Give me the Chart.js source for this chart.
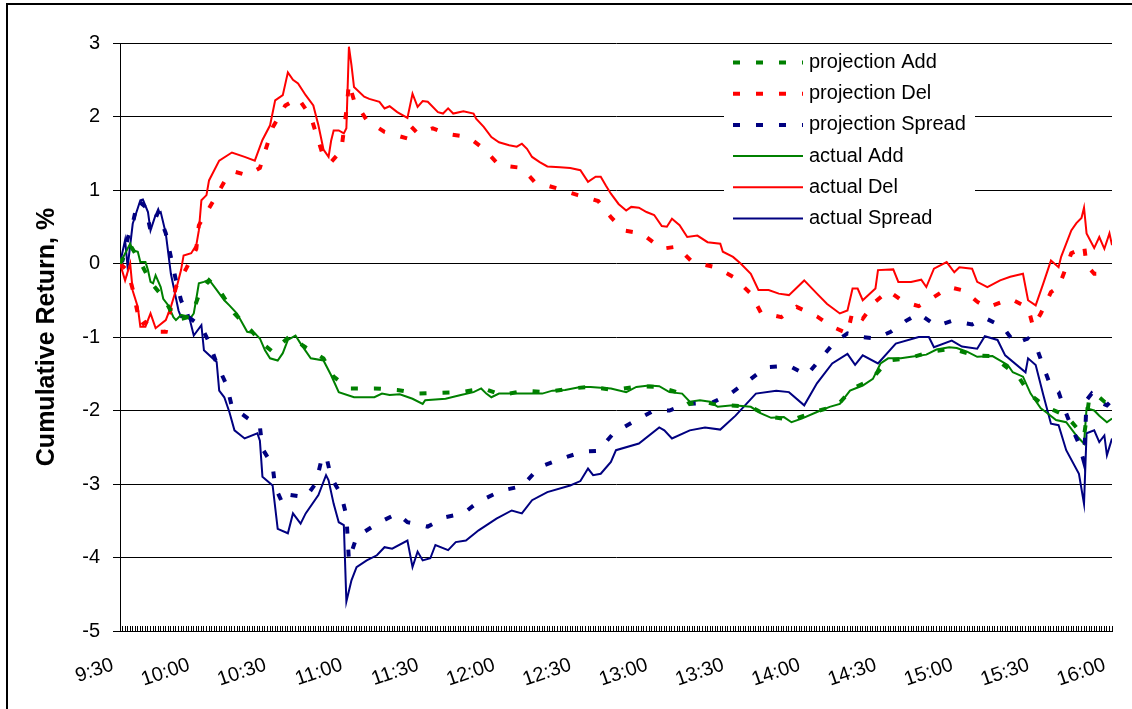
<!DOCTYPE html>
<html>
<head>
<meta charset="utf-8">
<script src="https://cdn.jsdelivr.net/npm/chart.js@4.4.1/dist/chart.umd.min.js"></script>
<style>
  html, body { margin: 0; padding: 0; background: #fff; }
  canvas { display: block; }
</style>
</head>
<body>
<canvas id="chart" width="1132" height="709"></canvas>
<script>
// x axis: minutes after 9:30, one tick per minute, a label every 30 min
const timeLabels = ['9:30', '10:00', '10:30', '11:00', '11:30', '12:00', '12:30',
  '13:00', '13:30', '14:00', '14:30', '15:00', '15:30', '16:00'];

// [minute, cumulative return %]
const projAdd = [[0,0],[4,0.25],[8,0.02],[12,-0.25],[17,-0.46],[22,-0.77],[28,-0.72],[31,-0.43],[35,-0.23],[39,-0.36],
  [45,-0.68],[52,-0.93],[56,-1.09],[60,-1.2],[67,-0.98],[72,-1.12],[80,-1.29],[84,-1.54],[90,-1.70],[100,-1.70],
  [109,-1.72],[117,-1.77],[126,-1.76],[134,-1.75],[143,-1.70],[150,-1.79],[159,-1.73],[168,-1.75],[177,-1.70],[185,-1.68],
  [194,-1.72],[204,-1.67],[212,-1.68],[221,-1.77],[224,-1.91],[229,-1.87],[233,-1.91],[239,-1.93],[248,-1.95],[255,-2.08],
  [264,-2.13],[273,-2.02],[282,-1.93],[288,-1.70],[295,-1.59],[302,-1.32],[310,-1.29],[319,-1.2],[327,-1.16],[336,-1.25],
  [343,-1.26],[350,-1.45],[353,-1.53],[358,-1.79],[364,-1.95],[372,-2.07],[377,-2.27],[379,-2.35],[381,-1.85],[384,-1.79],
  [387,-1.88],[390,-1.93]];

const projDel = [[0,0],[3,-0.1],[5,-0.35],[8,-0.85],[10,-0.8],[15,-0.93],[18,-0.93],[20,-0.6],[22,-0.32],[26,-0.07],
  [30,0.2],[31,0.52],[35,0.75],[38,0.93],[41,1.11],[45,1.25],[50,1.2],[55,1.3],[60,1.85],[65,2.15],
  [70,2.25],[75,2.0],[80,1.45],[83,1.38],[87,1.54],[88,1.81],[89,2.08],[90,2.45],[92,2.22],[97,1.95],
  [104,1.79],[113,1.70],[114,1.88],[117,1.77],[123,1.84],[129,1.76],[137,1.72],[143,1.56],[149,1.34],[158,1.30],
  [163,1.11],[172,1.02],[180,0.93],[188,0.85],[193,0.63],[198,0.45],[205,0.41],[213,0.2],[219,0.23],[225,0.02],
  [234,-0.05],[241,-0.18],[248,-0.41],[252,-0.67],[260,-0.73],[266,-0.59],[274,-0.72],[280,-0.86],[286,-0.95],[288,-0.65],
  [292,-0.75],[297,-0.52],[302,-0.37],[308,-0.52],[314,-0.58],[319,-0.48],[326,-0.32],[332,-0.37],[337,-0.52],[341,-0.6],
  [350,-0.48],[357,-0.6],[359,-0.86],[362,-0.68],[366,-0.39],[369,-0.32],[371,-0.14],[374,0.14],[378,0.2],[379,0.25],
  [380,-0.02],[383,-0.14],[387,-0.14],[390,-0.12]];

const projSpread = [[0,0],[1,0.04],[3,0.34],[5,0.54],[7,0.86],[10,0.77],[12,0.45],[15,0.7],[18,0.41],[20,0.09],
  [22,-0.23],[24,-0.5],[27,-0.73],[32,-0.86],[35,-1.07],[38,-1.36],[42,-1.66],[44,-1.95],[50,-2.1],[55,-2.22],
  [56,-2.52],[60,-2.75],[61,-3.04],[64,-3.27],[67,-3.15],[73,-3.18],[77,-2.99],[79,-2.70],[81,-2.61],[83,-2.91],
  [87,-3.15],[89,-3.43],[90,-4.04],[93,-3.72],[101,-3.54],[109,-3.40],[113,-3.52],[121,-3.58],[128,-3.45],[135,-3.40],
  [141,-3.24],[150,-3.09],[158,-3.03],[165,-2.77],[174,-2.65],[182,-2.56],[188,-2.55],[194,-2.31],[202,-2.15],[210,-2.0],
  [216,-2.0],[223,-1.91],[233,-1.89],[240,-1.77],[248,-1.57],[254,-1.41],[263,-1.39],[270,-1.52],[276,-1.27],[281,-1.07],
  [286,-0.95],[291,-1.0],[297,-1.02],[303,-0.93],[309,-0.78],[314,-0.68],[321,-0.85],[327,-0.78],[335,-0.83],[340,-0.74],
  [347,-0.86],[352,-1.09],[357,-1.02],[360,-1.11],[363,-1.40],[366,-1.68],[369,-1.75],[371,-1.95],[374,-2.22],[377,-2.45],
  [379,-2.70],[380,-1.86],[382,-1.77],[385,-1.88],[388,-1.93],[390,-1.86]];

const actualAdd = [[0,0],[4,0.27],[5,0.18],[7,0.16],[8,0.02],[10,0.02],[11,-0.09],[12,-0.25],[13,-0.27],[14,-0.16],
  [16,-0.32],[17,-0.48],[19,-0.57],[21,-0.73],[22,-0.77],[24,-0.70],[28,-0.73],[29,-0.68],[30,-0.48],[31,-0.27],
  [33,-0.25],[35,-0.22],[38,-0.36],[41,-0.5],[43,-0.57],[46,-0.68],[50,-0.93],[53,-0.95],[55,-1.02],[57,-1.18],
  [59,-1.29],[62,-1.32],[64,-1.22],[66,-1.04],[69,-0.98],[71,-1.09],[75,-1.29],[80,-1.32],[83,-1.52],[86,-1.75],
  [92,-1.82],[100,-1.82],[103,-1.77],[106,-1.79],[110,-1.78],[115,-1.84],[119,-1.91],[120,-1.86],[128,-1.84],[134,-1.79],
  [139,-1.75],[142,-1.70],[144,-1.77],[146,-1.82],[149,-1.77],[166,-1.77],[170,-1.73],[175,-1.72],[181,-1.68],[185,-1.68],
  [193,-1.70],[199,-1.75],[203,-1.68],[208,-1.66],[212,-1.67],[216,-1.75],[221,-1.77],[224,-1.88],[228,-1.86],[232,-1.88],
  [235,-1.95],[241,-1.93],[248,-1.95],[252,-2.04],[256,-2.10],[261,-2.09],[264,-2.16],[268,-2.11],[274,-2.02],[279,-1.95],
  [283,-1.91],[287,-1.73],[292,-1.66],[296,-1.57],[299,-1.36],[302,-1.29],[307,-1.29],[311,-1.27],[317,-1.24],[321,-1.17],
  [326,-1.14],[329,-1.15],[333,-1.2],[337,-1.27],[343,-1.26],[349,-1.38],[351,-1.48],[355,-1.54],[358,-1.77],[362,-1.97],
  [364,-2.02],[368,-2.13],[372,-2.16],[376,-2.34],[379,-2.45],[380,-1.97],[383,-2.0],[385,-2.07],[388,-2.16],[390,-2.11]];

const actualDel = [[0,0],[2,-0.23],[4,0.0],[5,-0.37],[7,-0.59],[8,-0.86],[10,-0.86],[12,-0.68],[14,-0.88],[18,-0.77],
  [20,-0.59],[22,-0.36],[24,-0.09],[25,0.11],[28,0.14],[30,0.25],[31,0.45],[32,0.86],[34,0.93],[35,1.13],
  [39,1.4],[44,1.51],[49,1.45],[53,1.4],[56,1.68],[59,1.88],[61,2.22],[64,2.29],[66,2.6],[68,2.5],
  [70,2.45],[73,2.29],[76,2.15],[78,1.88],[80,1.55],[82,1.45],[83,1.67],[84,1.81],[86,1.81],[88,1.77],
  [89,1.84],[90,2.95],[91,2.7],[92,2.4],[96,2.27],[98,2.24],[102,2.20],[104,2.11],[106,2.14],[109,2.06],
  [113,1.98],[115,2.31],[117,2.13],[119,2.21],[121,2.20],[125,2.06],[127,2.04],[129,2.11],[131,2.04],[135,2.07],
  [139,2.04],[140,1.97],[143,1.86],[146,1.72],[149,1.65],[153,1.61],[156,1.59],[158,1.63],[160,1.56],[162,1.45],
  [165,1.38],[168,1.32],[173,1.31],[177,1.30],[181,1.27],[184,1.11],[187,1.18],[189,1.18],[191,1.06],[193,0.95],
  [196,0.81],[199,0.72],[201,0.77],[204,0.76],[207,0.70],[210,0.66],[213,0.51],[215,0.50],[217,0.61],[220,0.52],
  [223,0.36],[227,0.38],[231,0.29],[236,0.27],[237,0.16],[241,0.09],[244,0.0],[248,-0.14],[251,-0.36],[255,-0.36],
  [259,-0.41],[263,-0.43],[269,-0.23],[274,-0.41],[278,-0.55],[283,-0.68],[286,-0.64],[288,-0.34],[290,-0.34],[292,-0.50],
  [297,-0.34],[298,-0.09],[304,-0.08],[306,-0.25],[311,-0.25],[315,-0.22],[317,-0.32],[320,-0.07],[325,0.02],[328,-0.12],
  [330,-0.05],[335,-0.07],[337,-0.25],[341,-0.32],[346,-0.23],[350,-0.18],[355,-0.14],[357,-0.50],[360,-0.57],[363,-0.27],
  [366,0.04],[369,-0.05],[370,0.09],[374,0.45],[376,0.55],[378,0.62],[379,0.76],[380,0.41],[383,0.21],[385,0.36],
  [387,0.2],[389,0.41],[390,0.25]];

const actualSpread = [[0,0],[2,0.32],[3,-0.05],[5,0.54],[8,0.86],[9,0.87],[11,0.7],[12,0.45],[14,0.66],[16,0.7],
  [18,0.41],[20,-0.14],[23,-0.64],[24,-0.73],[27,-0.7],[29,-0.98],[32,-0.84],[33,-1.18],[38,-1.34],[39,-1.73],
  [41,-1.82],[43,-2.02],[45,-2.27],[49,-2.38],[54,-2.31],[55,-2.41],[56,-2.9],[60,-3.02],[62,-3.61],[66,-3.67],
  [68,-3.40],[71,-3.54],[73,-3.40],[78,-3.15],[81,-2.88],[82,-2.95],[84,-3.27],[86,-3.52],[88,-3.56],[89,-4.6],
  [91,-4.31],[93,-4.13],[97,-4.04],[101,-3.97],[104,-3.86],[107,-3.88],[113,-3.77],[115,-4.13],[117,-3.92],[119,-4.04],
  [122,-4.01],[124,-3.83],[129,-3.90],[132,-3.79],[136,-3.77],[141,-3.63],[148,-3.47],[154,-3.36],[158,-3.40],[162,-3.22],
  [168,-3.11],[177,-3.02],[181,-2.96],[184,-2.79],[186,-2.88],[189,-2.86],[193,-2.70],[195,-2.54],[204,-2.45],[212,-2.23],
  [214,-2.27],[217,-2.38],[224,-2.27],[230,-2.23],[236,-2.26],[242,-2.07],[250,-1.77],[258,-1.73],[263,-1.75],[269,-1.93],
  [274,-1.63],[280,-1.36],[286,-1.23],[289,-1.38],[292,-1.25],[298,-1.36],[305,-1.09],[314,-1.0],[318,-1.0],[320,-1.14],
  [327,-1.05],[331,-1.13],[337,-1.16],[340,-0.99],[345,-1.04],[348,-1.25],[356,-1.48],[357,-1.29],[360,-1.38],[363,-1.79],
  [366,-2.18],[369,-2.2],[372,-2.54],[377,-2.86],[379,-3.27],[380,-2.31],[383,-2.27],[385,-2.43],[387,-2.34],[388,-2.61],
  [390,-2.38]];

const FONT = '"Liberation Sans", Arial, sans-serif';
Chart.defaults.font.family = FONT;
Chart.defaults.color = '#000';

const toPoints = (pairs) => pairs.map(p => ({ x: p[0], y: p[1] }));

function series(label, pairs, color, dashed) {
  return {
    label: label,
    data: toPoints(pairs),
    borderColor: color,
    backgroundColor: color,
    borderWidth: dashed ? 4 : 2,
    borderDash: dashed ? [7, 16] : [],
    pointRadius: 0,
    tension: 0,
    fill: false
  };
}

// legend sits inside the plot, white box over the grid lines
const insideLegend = {
  id: 'insideLegend',
  beforeDatasetsDraw(chart) {
    const ctx = chart.ctx;
    ctx.save();
    ctx.fillStyle = '#fff';
    ctx.fillRect(724, 50, 251, 182);
    chart.data.datasets.forEach((ds, i) => {
      const y = 62.5 + i * 31.2;
      ctx.beginPath();
      ctx.setLineDash(ds.borderDash);
      ctx.lineWidth = ds.borderWidth;
      ctx.strokeStyle = ds.borderColor;
      ctx.moveTo(733, y);
      ctx.lineTo(803, y);
      ctx.stroke();
      ctx.setLineDash([]);
      ctx.fillStyle = '#000';
      ctx.font = '20px ' + FONT;
      ctx.textBaseline = 'middle';
      ctx.textAlign = 'left';
      ctx.fillText(ds.label, 809, y);
    });
    ctx.restore();
  }
};

// black frame round the chart (left and top edges show)
const frame = {
  id: 'frame',
  afterDraw(chart) {
    const ctx = chart.ctx;
    ctx.save();
    ctx.fillStyle = '#000';
    ctx.fillRect(6, 3, 2, 706);
    ctx.fillRect(6, 3, 1126, 2);
    ctx.restore();
  }
};

new Chart(document.getElementById('chart'), {
  type: 'line',
  data: {
    datasets: [
      series('projection Add', projAdd, '#008000', true),
      series('projection Del', projDel, '#ff0000', true),
      series('projection Spread', projSpread, '#000080', true),
      series('actual Add', actualAdd, '#008000', false),
      series('actual Del', actualDel, '#ff0000', false),
      series('actual Spread', actualSpread, '#000080', false)
    ]
  },
  options: {
    responsive: false,
    animation: false,
    devicePixelRatio: 1,
    layout: { padding: { top: 43, right: 20, bottom: 0, left: 0 } },
    plugins: { legend: { display: false }, tooltip: { enabled: false } },
    scales: {
      x: {
        type: 'linear',
        min: 0,
        max: 390,
        afterFit: (s) => { s.height = 78; s.paddingLeft = 0; s.paddingRight = 0; },
        border: { display: true, color: '#000', width: 1 },
        grid: { display: true, drawOnChartArea: false, drawTicks: true, tickLength: -5, color: '#000' },
        ticks: {
          stepSize: 1,
          autoSkip: false,
          minRotation: 19,
          maxRotation: 19,
          padding: 27,
          labelOffset: -7,
          color: '#000',
          font: { size: 20 },
          callback: (v) => (v % 30 === 0 ? timeLabels[v / 30] : '')
        }
      },
      y: {
        min: -5,
        max: 3,
        afterFit: (s) => { s.width = 120; },
        border: { display: true, color: '#000' },
        grid: { color: '#000', tickLength: 7 },
        ticks: { stepSize: 1, padding: 13, color: '#000', font: { size: 20 } },
        title: {
          display: true,
          text: 'Cumulative Return, %',
          color: '#000',
          font: { size: 25, weight: 'bold' },
          padding: { top: 32, bottom: 0 }
        }
      }
    }
  },
  plugins: [insideLegend, frame]
});
</script>
</body>
</html>
